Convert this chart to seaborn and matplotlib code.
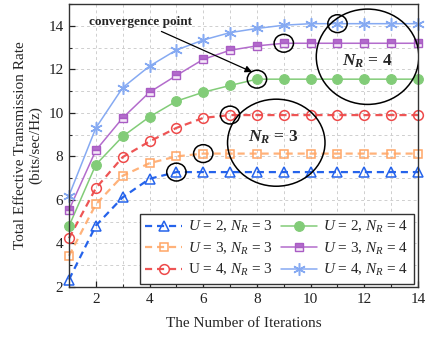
import numpy as np
import pandas as pd
import matplotlib
matplotlib.use("Agg")
import matplotlib.pyplot as plt
from matplotlib.patches import Ellipse
from matplotlib.ticker import MultipleLocator
import seaborn as sns

iterations = list(range(1, 15))

rate_u2_nr3 = [2.34, 4.82, 6.12, 6.97, 7.28, 7.28, 7.28, 7.28, 7.28, 7.28, 7.28, 7.28, 7.28, 7.28]
rate_u3_nr3 = [3.43, 5.80, 7.11, 7.69, 8.00, 8.13, 8.13, 8.13, 8.13, 8.13, 8.13, 8.13, 8.13, 8.13]
rate_u4_nr3 = [4.24, 6.54, 7.97, 8.69, 9.31, 9.77, 9.90, 9.90, 9.90, 9.90, 9.90, 9.90, 9.90, 9.90]
rate_u2_nr4 = [4.80, 7.62, 8.92, 9.82, 10.54, 10.95, 11.26, 11.55, 11.55, 11.55, 11.55, 11.55, 11.55, 11.55]
rate_u3_nr4 = [5.54, 8.28, 9.77, 10.95, 11.72, 12.46, 12.88, 13.08, 13.20, 13.20, 13.20, 13.20, 13.20, 13.20]
rate_u4_nr4 = [6.20, 9.31, 11.16, 12.15, 12.89, 13.35, 13.69, 13.88, 14.03, 14.10, 14.10, 14.10, 14.10, 14.10]

labels = [r"$U$ = 2, $N_R$ = 3", r"$U$ = 3, $N_R$ = 3", r"U = 4, $N_R$ = 3",
          r"$U$ = 2, $N_R$ = 4", r"$U$ = 3, $N_R$ = 4", r"$U$ = 4, $N_R$ = 4"]

# convergence iteration of each curve (circled)
converge_at = [5, 6, 7, 8, 9, 11]

sns.set_theme(style="ticks")
plt.rcParams["font.family"] = ["Liberation Serif", "DejaVu Serif"]
plt.rcParams["mathtext.fontset"] = "custom"
plt.rcParams["mathtext.rm"] = "Liberation Serif"
plt.rcParams["mathtext.it"] = "Liberation Serif:italic"
plt.rcParams["mathtext.bf"] = "Liberation Serif:bold"
plt.rcParams["mathtext.bfit"] = "Liberation Serif:italic:bold"

fig = plt.figure(figsize=(4.27, 3.41), dpi=100)
ax = fig.add_axes([0.1616, 0.1584, 0.8174, 0.8296])

series = [rate_u2_nr3, rate_u3_nr3, rate_u4_nr3, rate_u2_nr4, rate_u3_nr4, rate_u4_nr4]
dash = (0, (3.2, 2.2))
styles = [
    dict(color="#2563eb", marker="^", linestyle=dash, markerfacecolor="none", markeredgecolor="#2563eb",
         linewidth=1.6, markersize=7, markeredgewidth=1.1),
    dict(color="#ffb27a", marker="s", linestyle=dash, markerfacecolor="none", markeredgecolor="#ffa666",
         linewidth=1.6, markersize=6.3, markeredgewidth=1.1),
    dict(color="#ee5555", marker="o", linestyle=dash, markerfacecolor="none", markeredgecolor="#ee4a4a",
         linewidth=1.6, markersize=7, markeredgewidth=1.1),
    dict(color="#82cc78", marker="o", linestyle="-", markerfacecolor="#82cc78", markeredgecolor="#82cc78",
         linewidth=1.1, markersize=7, markeredgewidth=0.8),
    dict(color="#b36ccc", marker="s", linestyle="-", fillstyle="top", markerfacecolor="#b36ccc",
         markerfacecoloralt="#f4e8f8", markeredgecolor="#a95cc4",
         linewidth=1.1, markersize=6, markeredgewidth=1.0),
    dict(color="#86aaf2", marker=(6, 2, 0), linestyle="-", markerfacecolor="#86aaf2", markeredgecolor="#86aaf2",
         linewidth=1.1, markersize=9, markeredgewidth=1.1),
]

handles = []
for vals, lab, st in zip(series, labels, styles):
    df = pd.DataFrame({"iter": iterations, "rate": vals})
    sns.lineplot(data=df, x="iter", y="rate", ax=ax, label=lab, clip_on=False, **st)
    handles.append(ax.lines[-1])

ax.set_xlim(1, 14)
ax.set_ylim(2, 15)
ax.xaxis.set_major_locator(MultipleLocator(2))
ax.xaxis.set_minor_locator(MultipleLocator(1))
ax.yaxis.set_major_locator(MultipleLocator(2))
ax.yaxis.set_minor_locator(MultipleLocator(1))
ax.set_xticks([2, 4, 6, 8, 10, 12, 14])
ax.grid(True, which="both", linestyle=(0, (3, 3)), color="#cfcfcf", lw=0.7)
ax.set_axisbelow(True)
ax.tick_params(which="major", direction="in", length=4, width=0.9, labelsize=11, colors="#222222", pad=4)
ax.tick_params(which="minor", direction="in", length=2.5, width=0.8)
for sp in ax.spines.values():
    sp.set_color("#333333")
    sp.set_linewidth(1.0)

ax.set_xlabel("The Number of Iterations", fontsize=11, labelpad=8)
ax.set_ylabel("Total Effective Transmission Rate\n(bits/sec/Hz)", fontsize=11, labelpad=4)

# circles marking where each curve converges
for k, vals in zip(converge_at, series):
    ax.add_patch(Ellipse((k, vals[k - 1]), 0.72, 0.82, fill=False, ec="black", lw=1.1, zorder=5))

# groups of curves
ax.add_patch(Ellipse((8.72, 8.63), 3.63, 4.0, fill=False, ec="black", lw=1.1, zorder=5))
ax.add_patch(Ellipse((12.12, 12.58), 3.82, 4.38, fill=False, ec="black", lw=1.1, zorder=5))
ax.text(8.6, 8.9, r"$\mathbfit{N}_{\mathbfit{R}}\,\mathbf{=}\,\mathbf{3}$", fontsize=12.5,
        ha="center", va="center")
ax.text(12.12, 12.37, r"$\mathbfit{N}_{\mathbfit{R}}\,\mathbf{=}\,\mathbf{4}$", fontsize=12.5,
        ha="center", va="center")

ax.annotate("convergence point", xy=(7.82, 11.88), xytext=(1.75, 14.17),
            fontsize=9.5, fontweight="bold", ha="left", va="center",
            arrowprops=dict(arrowstyle="-|>", color="black", lw=0.9,
                            shrinkA=0, shrinkB=0, mutation_scale=10),
            )

leg = ax.legend(handles=handles, labels=labels, ncol=2, loc="lower right",
                bbox_to_anchor=(0.988, 0.012), fontsize=11, frameon=True, fancybox=False,
                edgecolor="#333333", framealpha=1, handlelength=2.4, handletextpad=0.4,
                columnspacing=0.5, labelspacing=0.35, borderpad=0.35, borderaxespad=0)
leg.get_frame().set_linewidth(1.0)

fig.savefig("out.png", dpi=100)
